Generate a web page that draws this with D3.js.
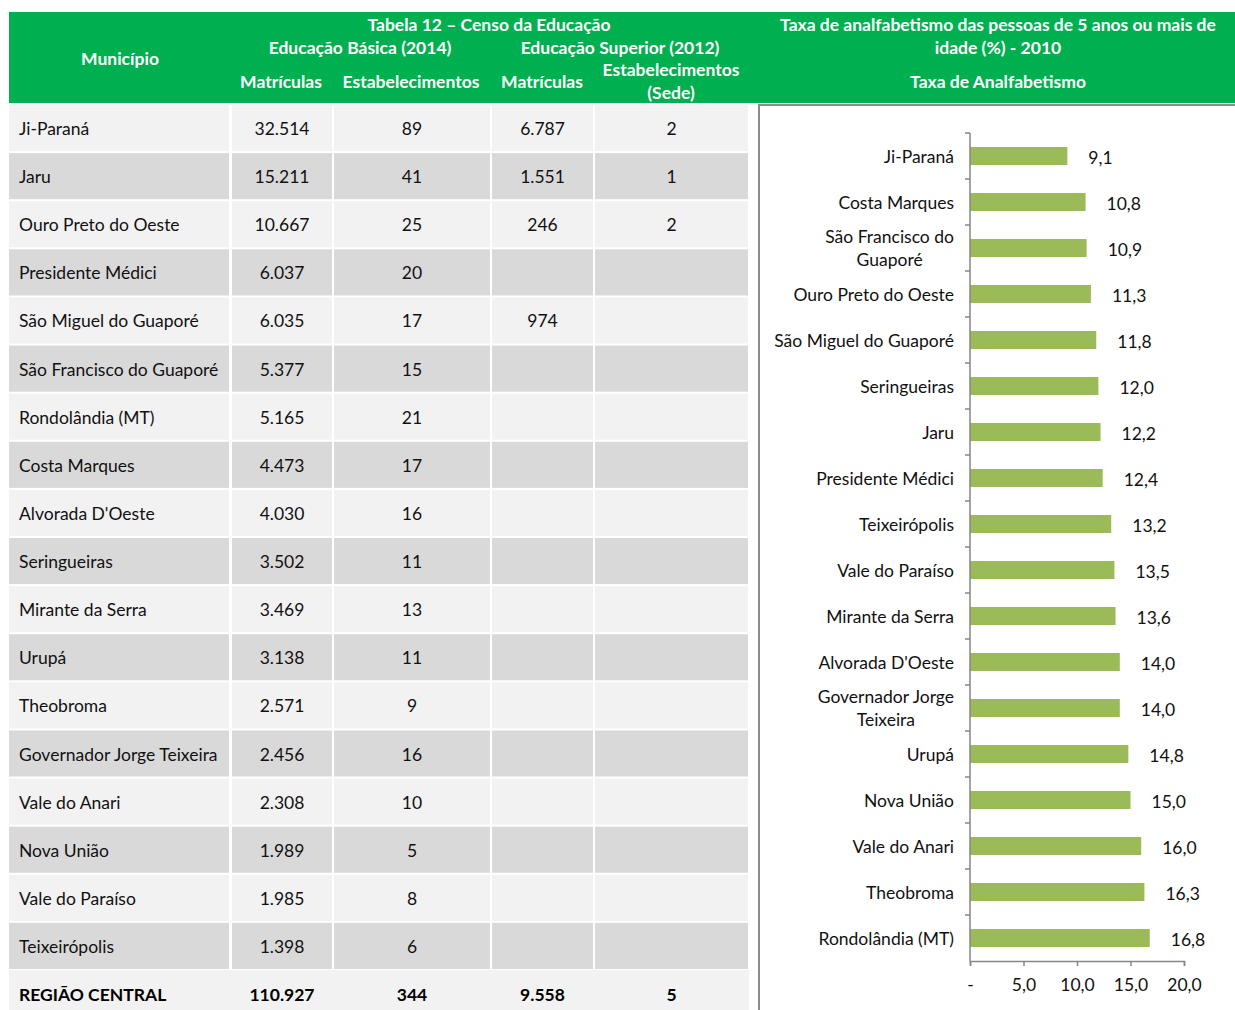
<!DOCTYPE html>
<html>
<head>
<meta charset="utf-8">
<script src="https://cdn.jsdelivr.net/npm/d3@7"></script>
<style>
  body { margin: 0; background: #fff; }
  svg text { font-family: Lato, "Open Sans", sans-serif; }
</style>
</head>
<body>
<svg id="chart" width="1235" height="1010"></svg>
<script>
// ---- table data ----
const municipios = ["Ji-Paraná", "Jaru", "Ouro Preto do Oeste", "Presidente Médici",
  "São Miguel do Guaporé", "São Francisco do Guaporé", "Rondolândia (MT)", "Costa Marques",
  "Alvorada D'Oeste", "Seringueiras", "Mirante da Serra", "Urupá", "Theobroma",
  "Governador Jorge Teixeira", "Vale do Anari", "Nova União", "Vale do Paraíso", "Teixeirópolis"];
const basicaMatriculas = ["32.514", "15.211", "10.667", "6.037", "6.035", "5.377", "5.165", "4.473",
  "4.030", "3.502", "3.469", "3.138", "2.571", "2.456", "2.308", "1.989", "1.985", "1.398"];
const basicaEstab = ["89", "41", "25", "20", "17", "15", "21", "17", "16", "11", "13", "11", "9",
  "16", "10", "5", "8", "6"];
const superiorMatriculas = ["6.787", "1.551", "246", "", "974", "", "", "", "", "", "", "", "", "", "", "", "", ""];
const superiorEstab = ["2", "1", "2", "", "", "", "", "", "", "", "", "", "", "", "", "", "", ""];
const totalRow = ["REGIÃO CENTRAL", "110.927", "344", "9.558", "5"];

// ---- chart data ----
const chartCats = [["Ji-Paraná"], ["Costa Marques"], ["São Francisco do", "Guaporé"],
  ["Ouro Preto do Oeste"], ["São Miguel do Guaporé"], ["Seringueiras"], ["Jaru"],
  ["Presidente Médici"], ["Teixeirópolis"], ["Vale do Paraíso"], ["Mirante da Serra"],
  ["Alvorada D'Oeste"], ["Governador Jorge", "Teixeira"], ["Urupá"], ["Nova União"],
  ["Vale do Anari"], ["Theobroma"], ["Rondolândia (MT)"]];
const taxa = [9.1, 10.8, 10.9, 11.3, 11.8, 12.0, 12.2, 12.4, 13.2, 13.5, 13.6, 14.0, 14.0,
  14.8, 15.0, 16.0, 16.3, 16.8];
const xTicks = [0, 5, 10, 15, 20];

const green = "#00b050";
const fs = 17.5;
const svg = d3.select("#chart");
const fmt = v => v === 0 ? "-" : d3.format(".1f")(v).replace(".", ",");

// ======================
// HEADER
// ======================
svg.append("rect").attr("x", 9).attr("y", 12).attr("width", 1226).attr("height", 91).attr("fill", green);

const headerTexts = [
  { t: "Tabela 12 – Censo da Educação", x: 489, y: 24 },
  { t: "Educação Básica (2014)", x: 360, y: 47 },
  { t: "Educação Superior (2012)", x: 620, y: 47 },
  { t: "Município", x: 120, y: 58 },
  { t: "Matrículas", x: 281, y: 81 },
  { t: "Estabelecimentos", x: 411, y: 81 },
  { t: "Matrículas", x: 542, y: 81 },
  { t: "Estabelecimentos", x: 671, y: 69 },
  { t: "(Sede)", x: 671, y: 92 },
  { t: "Taxa de analfabetismo das pessoas de 5 anos ou mais de", x: 998, y: 24 },
  { t: "idade (%) - 2010", x: 998, y: 47 },
  { t: "Taxa de Analfabetismo", x: 998, y: 81 }
];
svg.selectAll(".hdr").data(headerTexts).enter().append("text")
  .attr("x", d => d.x).attr("y", d => d.y)
  .attr("dy", "0.38em").attr("text-anchor", "middle")
  .attr("fill", "#fff").attr("font-weight", "bold").attr("font-size", fs)
  .text(d => d.t);

// ======================
// TABLE
// ======================
const colEdges = [[9, 229], [232, 332], [334, 490], [492, 593], [595, 748]];
const rowY = d3.scaleBand().domain(d3.range(municipios.length)).range([105, 105 + 48 * municipios.length]).paddingInner(2 / 48).paddingOuter(0);

const columns = [municipios, basicaMatriculas, basicaEstab, superiorMatriculas, superiorEstab];

municipios.forEach((m, i) => {
  const fill = i % 2 === 0 ? "#f2f2f2" : "#d9d9d9";
  colEdges.forEach((c, j) => {
    svg.append("rect")
      .attr("x", c[0]).attr("y", rowY(i))
      .attr("width", c[1] - c[0]).attr("height", rowY.bandwidth())
      .attr("fill", fill);
    const txt = columns[j][i];
    if (txt === "") return;
    svg.append("text")
      .attr("x", j === 0 ? 19 : (c[0] + c[1]) / 2)
      .attr("y", rowY(i) + rowY.bandwidth() / 2)
      .attr("dy", "0.4em")
      .attr("text-anchor", j === 0 ? "start" : "middle")
      .attr("font-size", fs).attr("fill", "#111")
      .text(txt);
  });
});

// total row
svg.append("rect").attr("x", 9).attr("y", 970).attr("width", 740).attr("height", 40).attr("fill", "#f2f2f2");
totalRow.forEach((t, j) => {
  const c = colEdges[j];
  svg.append("text")
    .attr("x", j === 0 ? 19 : (c[0] + c[1]) / 2)
    .attr("y", 994).attr("dy", "0.4em")
    .attr("text-anchor", j === 0 ? "start" : "middle")
    .attr("font-size", fs).attr("font-weight", "bold").attr("fill", "#000")
    .text(t);
});

// ======================
// CHART PANEL
// ======================
svg.append("rect").attr("x", 759).attr("y", 105).attr("width", 480).attr("height", 910)
  .attr("fill", "#fff").attr("stroke", "#8c8c8c").attr("stroke-width", 2);

const x = d3.scaleLinear().domain([0, 20]).range([970, 1184]);
const yStep = d3.scaleBand().domain(d3.range(taxa.length)).range([133, 961]);

const g = svg.append("g");

g.selectAll(".bar").data(taxa).enter().append("rect")
  .attr("x", x(0)).attr("y", (d, i) => yStep(i) + yStep.bandwidth() / 2 - 9)
  .attr("width", d => x(d) - x(0)).attr("height", 18)
  .attr("fill", "#9bbb59");

g.selectAll(".val").data(taxa).enter().append("text")
  .attr("x", d => x(d) + 21).attr("y", (d, i) => yStep(i) + yStep.bandwidth() / 2 + 1)
  .attr("dy", "0.4em").attr("font-size", fs).attr("fill", "#111")
  .text(d => fmt(d));

// category labels (wrapped labels are centred as a block, block right-aligned)
chartCats.forEach((lines, i) => {
  const cy = yStep(i) + yStep.bandwidth() / 2;
  const t = g.append("text").attr("font-size", fs).attr("fill", "#111");
  const spans = lines.map((ln, k) => t.append("tspan")
    .attr("y", cy + (k - (lines.length - 1) / 2) * 23)
    .attr("dy", "0.38em").text(ln));
  if (lines.length === 1) {
    t.attr("text-anchor", "end");
    spans[0].attr("x", 954);
  } else {
    const w = d3.max(spans, s => s.node().getComputedTextLength());
    t.attr("text-anchor", "middle");
    spans.forEach(s => s.attr("x", 954 - w / 2));
  }
});

// category axis
const axisColor = "#868686";
g.append("line").attr("x1", x(0)).attr("x2", x(0)).attr("y1", 133).attr("y2", 961)
  .attr("stroke", axisColor).attr("stroke-width", 1.5);
g.selectAll(".ytick").data(d3.range(taxa.length)).enter().append("line")
  .attr("x1", x(0) - 5).attr("x2", x(0)).attr("y1", i => yStep(i)).attr("y2", i => yStep(i))
  .attr("stroke", axisColor).attr("stroke-width", 1.5);

// value axis
const xAxis = d3.axisBottom(x).tickValues(xTicks).tickSize(5).tickPadding(13).tickFormat(fmt);
const xg = g.append("g").attr("transform", "translate(0,961)").call(xAxis);
xg.select(".domain").attr("stroke", axisColor).attr("stroke-width", 1.5);
xg.selectAll(".tick line").attr("stroke", axisColor).attr("stroke-width", 1.5);
xg.selectAll(".tick text").attr("font-size", fs).attr("fill", "#111")
  .attr("font-family", "Lato, 'Open Sans', sans-serif");
</script>
</body>
</html>
